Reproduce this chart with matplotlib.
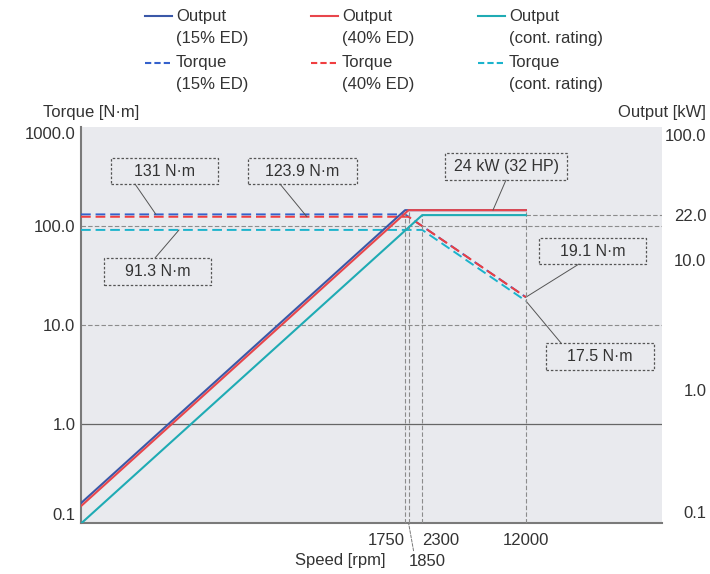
import numpy as np
import matplotlib.pyplot as plt
from matplotlib.lines import Line2D
from matplotlib.patches import Rectangle

plt.rcParams['font.family'] = ['Liberation Sans', 'DejaVu Sans']

# speed [rpm] corner points
speed_15 = [10, 1750, 12000]
speed_40 = [10, 1850, 12000]
speed_cont = [10, 2300, 12000]

# torque [N·m]
torque_15 = [131, 131, 19.1]
torque_40 = [123.9, 123.9, 19.1]
torque_cont = [91.3, 91.3, 17.5]

# output [kW]
output_15 = [0.137, 24, 24]
output_40 = [0.130, 24, 24]
output_cont = [0.0956, 22, 22]

speed_ticks = [1750, 1850, 2300, 12000]
torque_ticks = [0.1, 1, 10, 100, 1000]
torque_ticklabels = ['0.1', '1.0', '10.0', '100.0', '1000.0']
output_ticks = [0.1, 1, 10, 22, 100]
output_ticklabels = ['0.1', '1.0', '10.0', '22.0', '100.0']

c_blue_o, c_blue_t = '#3a58a8', '#3461cc'
c_red_o, c_red_t = '#e8464c', '#f03e40'
c_cyan_o, c_cyan_t = '#1fabb4', '#1bb3cc'
grid_c = '#8c8c8c'
txt_c = '#333333'
bg = '#e9eaee'
fs = 12

W, H = 710, 574
fig = plt.figure(figsize=(W / 100, H / 100), dpi=100)
L, R, T, B = 81, 662, 127, 523
ax = fig.add_axes([L / W, 1 - B / H, (R - L) / W, (B - T) / H])
ax.set_facecolor(bg)
ax2 = ax.twinx()

ax.set_xscale('log')
ax.set_yscale('log')
ax2.set_yscale('log')
ax.set_xlim(10, 105000)
ax.set_ylim(0.1, 1000)
ax2.set_ylim(0.0965, 104)

# reference lines
dash = (0, (4, 2))
ax.axhline(1, color='#666666', lw=0.9, zorder=1)
ax.axhline(10, color=grid_c, lw=0.8, ls=dash, zorder=1)
ax.axhline(100, color=grid_c, lw=0.8, ls=dash, zorder=1)
ax2.hlines(22, 12000, 105000, color=grid_c, lw=0.8, ls=dash, zorder=1)
ax2.vlines([1750, 1850, 12000], 0.0965, 24, color=grid_c, lw=0.8, ls=dash, zorder=1)
ax2.vlines(2300, 0.0965, 22, color=grid_c, lw=0.8, ls=dash, zorder=1)

# torque (left axis)
tdash = (0, (5, 2.5))
ax.plot(speed_cont, torque_cont, color=c_cyan_t, lw=1.4, ls=tdash, zorder=3)
ax.plot(speed_15, torque_15, color=c_blue_t, lw=1.4, ls=tdash, zorder=3)
ax.plot(speed_40, torque_40, color=c_red_t, lw=1.4, ls=tdash, zorder=3)

# output (right axis)
ax2.plot(speed_cont, output_cont, color=c_cyan_o, lw=1.5, zorder=3)
ax2.plot(speed_15, output_15, color=c_blue_o, lw=1.5, zorder=3)
ax2.plot(speed_40, output_40, color=c_red_o, lw=1.5, zorder=3)

# axes styling
for a in (ax, ax2):
    for s in ('top', 'right'):
        a.spines[s].set_visible(False)
    a.tick_params(length=0, labelsize=fs, labelcolor=txt_c)
for s in ('left', 'bottom'):
    ax.spines[s].set_color('#7a7a7a')
    ax.spines[s].set_linewidth(1.5)
ax2.spines['left'].set_visible(False)
ax2.spines['bottom'].set_visible(False)

ax.set_yticks(torque_ticks)
ax.set_yticklabels(torque_ticklabels)
ax.yaxis.set_minor_locator(plt.NullLocator())
ax.tick_params(axis='y', pad=4)
ax2.set_yticks(output_ticks)
ax2.set_yticklabels(output_ticklabels)
ax2.yaxis.set_minor_locator(plt.NullLocator())
ax2.tick_params(axis='y', pad=32)
for t in ax2.get_yticklabels():
    t.set_ha('right')
ax.set_xticks(speed_ticks)
ax.set_xticklabels(['1750', '', '2300', '12000'])
ax.xaxis.set_minor_locator(plt.NullLocator())
ax.tick_params(axis='x', pad=7)
xl = ax.get_xticklabels()
xl[0].set_ha('right')
xl[2].set_ha('left')
# first/last y labels kept inside like the reference
ax.get_yticklabels()[0].set_va('bottom')
ax.get_yticklabels()[-1].set_va('top')
ax2.get_yticklabels()[0].set_va('bottom')
ax2.get_yticklabels()[-1].set_va('top')

# 1850 label below with leader
ax.annotate('1850', xy=(1850, 0.1), xycoords='data',
            xytext=(427, H - 561), textcoords='figure pixels',
            ha='center', va='center', fontsize=fs, color=txt_c,
            arrowprops=dict(arrowstyle='-', color='#777777', lw=0.7, ls=(0, (3, 1.5)),
                            shrinkA=0, shrinkB=0, relpos=(0.15, 1.0)),
            annotation_clip=False)

fig.text(340 / W, 1 - 560 / H, 'Speed [rpm]', ha='center', va='center', fontsize=fs, color=txt_c)
fig.text(43 / W, 1 - 113 / H, 'Torque [N·m]', ha='left', va='center', fontsize=fs, color=txt_c)
fig.text(706 / W, 1 - 113 / H, 'Output [kW]', ha='right', va='center', fontsize=fs, color=txt_c)


def fx(x):
    return (x - L) / (R - L)


def fy(y):
    return (B - y) / (B - T)


def callout(a, text, box, start, xy):
    x0, y0, x1, y1 = box
    a.add_patch(Rectangle((fx(x0), fy(y1)), fx(x1) - fx(x0), fy(y0) - fy(y1),
                          transform=a.transAxes, fill=False, ec='#555555',
                          lw=0.9, ls=(0, (2, 1.5)), zorder=5, clip_on=False))
    a.text(fx((x0 + x1) / 2), fy((y0 + y1) / 2), text, transform=a.transAxes,
           ha='center', va='center', fontsize=11.5, color=txt_c, zorder=6)
    a.annotate('', xy=xy, xycoords='data', xytext=(fx(start[0]), fy(start[1])),
               textcoords='axes fraction',
               arrowprops=dict(arrowstyle='-', color='#555555', lw=0.7,
                               shrinkA=0, shrinkB=0), zorder=5)


callout(ax, '131 N·m', (111, 158, 218, 184), (135, 184), (33, 131))
callout(ax, '123.9 N·m', (248, 158, 357, 184), (280, 184), (366, 123.9))
callout(ax, '91.3 N·m', (104, 258, 211, 285), (155, 258), (47.7, 91.3))
callout(ax2, '24 kW (32 HP)', (445, 153, 567, 180), (506, 180), (7100, 24))
callout(ax, '19.1 N·m', (539, 238, 646, 264), (579, 264), (12000, 19.1))
callout(ax, '17.5 N·m', (546, 343, 654, 370), (561, 343), (12000, 17.5))

# legend, drawn by hand in figure pixels
leg_cols = [145, 311, 478]
leg_rows = [16, 63]
leg_names = [['Output', 'Output', 'Output'], ['Torque', 'Torque', 'Torque']]
leg_sub = ['(15% ED)', '(40% ED)', '(cont. rating)']
leg_colors = [[c_blue_o, c_red_o, c_cyan_o], [c_blue_t, c_red_t, c_cyan_t]]
leg_styles = ['-', (0, (3, 1.5))]
for r, yy in enumerate(leg_rows):
    for c, xx in enumerate(leg_cols):
        fig.add_artist(Line2D([xx / W, (xx + 27) / W], [1 - yy / H, 1 - yy / H],
                              color=leg_colors[r][c], lw=1.5, ls=leg_styles[r]))
        fig.text((xx + 31) / W, 1 - yy / H, leg_names[r][c], ha='left', va='center',
                 fontsize=fs, color=txt_c)
        fig.text((xx + 31) / W, 1 - (yy + 22) / H, leg_sub[c], ha='left', va='center',
                 fontsize=fs, color=txt_c)

fig.savefig('out.png', dpi=100)
